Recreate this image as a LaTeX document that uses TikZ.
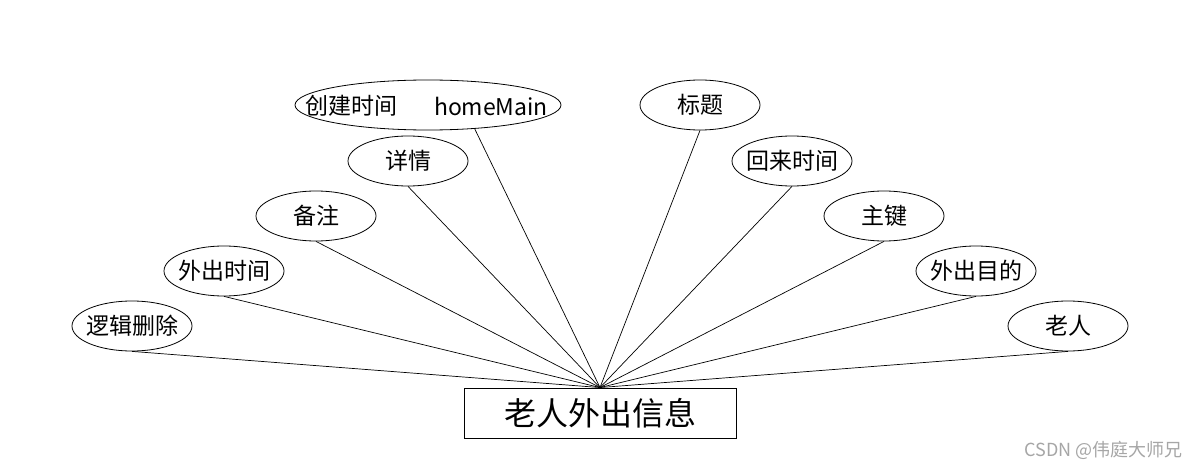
\documentclass[tikz,border=0pt]{standalone}
\usepackage{fontspec}
\setmainfont{Noto Sans CJK SC}
\usetikzlibrary{shapes.geometric}
\tikzset{
  attr/.style={ellipse,draw,line width=0.8pt,minimum width=120pt,minimum height=50pt,inner xsep=-6pt,inner ysep=0pt,font=\fontsize{23}{26}\selectfont},
  lbl/.style={inner sep=0pt,font=\fontsize{23}{26}\selectfont},
  ent/.style={rectangle,draw,line width=0.9pt,minimum width=272pt,minimum height=50pt,inner sep=0pt,font=\fontsize{32}{36}\selectfont},
  link/.style={line width=0.7pt}
}
\begin{document}
\begin{tikzpicture}[x=1pt,y=-1pt]
\useasboundingbox[fill=white] (0,0) rectangle (1200,468);
\node[ent] (box) at (600,413) {老人外出信息};
\node[attr] (a1) at (132,326) {逻辑删除};
\node[attr] (a2) at (224,271) {外出时间};
\node[attr] (a3) at (316,216) {备注};
\node[attr] (a4) at (408,161) {详情};
\node[attr,minimum width=266pt] (a5) at (428,105) {};
\node[lbl] (a5t) at (351,106) {创建时间};
\node[lbl] (a5h) at (491,106) {homeMain};
\node[attr] (b1) at (700,105) {标题};
\node[attr] (b2) at (792,161) {回来时间};
\node[attr] (b3) at (884,216) {主键};
\node[attr] (b4) at (976,271) {外出目的};
\node[attr] (b5) at (1068,326) {老人};
\foreach \n in {a1,a2,a3,a4,b1,b2,b3,b4,b5}
  \draw[link] (\n.south) -- (box.north);
\draw[link] (a5.-27) -- (box.north);
\node[text=black!35,font=\fontsize{18}{20}\selectfont,anchor=east] (wm) at (1186,450) {CSDN @伟庭大师兄};
\end{tikzpicture}
\end{document}
